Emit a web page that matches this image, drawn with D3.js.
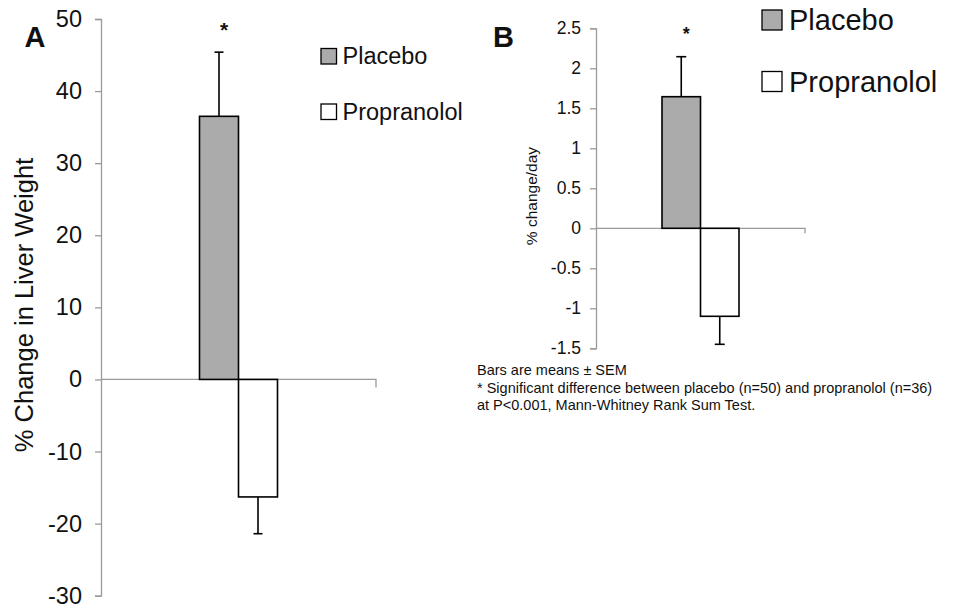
<!DOCTYPE html>
<html><head><meta charset="utf-8">
<script src="https://cdn.jsdelivr.net/npm/d3@7"></script>
<style>
body{margin:0;background:#fff;}
text{font-family:"Liberation Sans",Arial,sans-serif;fill:#111;}
</style></head>
<body><svg id="c" width="954" height="609"></svg>
<script>
// ---- data ----
const groups = ["Placebo", "Propranolol"];
const liverMeans = [36.5, -16.3];
const liverSEM = [8.9, 5.1];
const dayMeans = [1.645, -1.10];
const daySEM = [0.50, 0.35];
const ticksA = [50, 40, 30, 20, 10, 0, -10, -20, -30];
const ticksB = [2.5, 2, 1.5, 1, 0.5, 0, -0.5, -1, -1.5];
const fills = ["#ababab", "#ffffff"];
const footnote = [
  "Bars are means \u00B1 SEM",
  "* Significant difference between placebo (n=50) and propranolol (n=36)",
  "at P<0.001, Mann-Whitney Rank Sum Test."
];

const svg = d3.select("#c");

function panel(o){
  const g = svg.append("g");
  const y = d3.scaleLinear().domain(o.domain).range(o.yRange);
  const xg = d3.scaleLinear().domain([0,1]).range(o.xRange);
  const cx = xg(0.5);
  const band = d3.scaleBand().domain(groups).range([cx - o.barW, cx + o.barW]);

  // y axis
  const ax = d3.axisLeft(y).tickValues(o.ticks).tickSize(6).tickPadding(o.pad)
    .tickFormat(d => String(d));
  const axg = g.append("g").attr("transform", `translate(${o.xRange[0]},0)`).call(ax);
  axg.select(".domain").attr("stroke", "#9a9a9a").attr("stroke-width", 1.3);
  axg.selectAll(".tick line").attr("stroke", "#9a9a9a").attr("stroke-width", 1.3);
  axg.selectAll(".tick text").style("font-size", o.tickFont + "px")
     .style("font-family", "'Liberation Sans',Arial,sans-serif").attr("fill", "#111");

  // zero line
  g.append("path")
    .attr("d", `M${o.xRange[0]},${y(0)}H${o.xRange[1]}V${y(0) + o.endTick}`)
    .attr("fill", "none").attr("stroke", "#9a9a9a").attr("stroke-width", 1.3);

  // bars
  g.selectAll("rect.bar").data(groups).join("rect")
    .attr("x", d => band(d)).attr("width", band.bandwidth())
    .attr("y", (d,i) => Math.min(y(0), y(o.means[i])))
    .attr("height", (d,i) => Math.abs(y(o.means[i]) - y(0)))
    .attr("fill", (d,i) => fills[i]).attr("stroke", "#000").attr("stroke-width", 1.6);

  // error bars
  groups.forEach((d,i) => {
    const mx = band(d) + band.bandwidth()/2;
    const v = o.means[i], e = o.sem[i];
    const end = v >= 0 ? v + e : v - e;
    g.append("line").attr("x1", mx).attr("x2", mx).attr("y1", y(v)).attr("y2", y(end))
      .attr("stroke", "#000").attr("stroke-width", 1.6);
    g.append("line").attr("x1", mx - o.cap).attr("x2", mx + o.cap).attr("y1", y(end)).attr("y2", y(end))
      .attr("stroke", "#000").attr("stroke-width", 1.6);
  });

  // star
  g.append("text").attr("x", band("Placebo") + band.bandwidth()/2 + 5).attr("y", o.starY)
    .attr("text-anchor", "middle").style("font-size", o.starFont + "px").style("font-weight", "bold").text("*");

  // y title
  g.append("text").attr("transform", `translate(${o.titleX},${o.titleY}) rotate(-90)`)
    .attr("text-anchor", "middle").style("font-size", o.titleFont + "px").text(o.title);

  // panel letter
  g.append("text").attr("x", o.letterX).attr("y", o.letterY)
    .style("font-size", o.letterFont + "px").style("font-weight", "bold").text(o.letter);

  // legend
  groups.forEach((d,i) => {
    const ly = o.legY[i];
    g.append("rect").attr("x", o.legX).attr("y", ly - o.legSq).attr("width", o.legSq).attr("height", o.legSq)
      .attr("fill", fills[i]).attr("stroke", "#000").attr("stroke-width", 1.3);
    g.append("text").attr("x", o.legX + o.legSq + o.legGap).attr("y", ly)
      .style("font-size", o.legFont + "px").text(d);
  });
}

panel({
  domain: [-30, 50], yRange: [595.7, 19], xRange: [101, 376], barW: 39,
  ticks: ticksA, means: liverMeans, sem: liverSEM, pad: 13, tickFont: 23.5,
  endTick: 8, cap: 4.5, starY: 37, starFont: 21,
  title: "% Change in Liver Weight", titleX: 33, titleY: 305, titleFont: 25.5,
  letter: "A", letterX: 24.5, letterY: 47, letterFont: 29,
  legX: 321, legY: [64, 119.5], legSq: 15.5, legGap: 6, legFont: 23.5
});

panel({
  domain: [-1.5, 2.5], yRange: [348.3, 28.3], xRange: [596, 805], barW: 38.5,
  ticks: ticksB, means: dayMeans, sem: daySEM, pad: 9, tickFont: 17.5,
  endTick: 5, cap: 5, starY: 40, starFont: 18,
  title: "% change/day", titleX: 537, titleY: 196, titleFont: 15.5,
  letter: "B", letterX: 493, letterY: 47, letterFont: 29,
  legX: 762, legY: [30, 91.5], legSq: 20, legGap: 7, legFont: 29
});

// footnote
svg.append("g").selectAll("text").data(footnote).join("text")
  .attr("x", 477).attr("y", (d,i) => 375 + i*17.5)
  .style("font-size", "14.5px").text(d => d);
</script></body></html>
